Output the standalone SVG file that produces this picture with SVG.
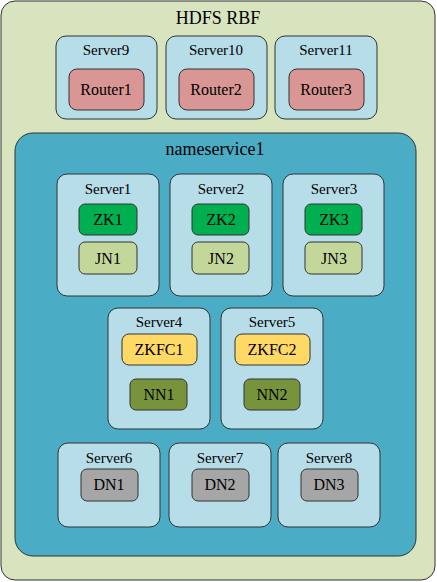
<svg xmlns="http://www.w3.org/2000/svg" width="437" height="582" viewBox="0 0 437 582">
<style>
.outer{fill:#d7e4bd;stroke:#333;stroke-width:1}
.ns{fill:#4bacc6;stroke:#333;stroke-width:1}
.srv{fill:#b7dde8;stroke:#333;stroke-width:1}
.in{stroke:#333;stroke-width:1}
.router{fill:#d99694}
.zk{fill:#00b050}
.jn{fill:#c4d79b}
.zkfc{fill:#ffd966}
.nn{fill:#77933c}
.dn{fill:#a6a6a6}
</style>
<g id="hdfs-rbf">
<rect class="outer" x="1" y="1" width="434" height="579" rx="14"/>
<text x="218" y="24" font-family="Liberation Serif" font-size="18" text-anchor="middle">HDFS RBF</text>
</g>
<g id="server9">
<rect class="srv" x="56" y="36" width="101" height="83" rx="10"/>
<text x="106" y="55" font-family="Liberation Serif" font-size="15" text-anchor="middle">Server9</text>
<rect class="in router" x="69" y="69" width="75" height="41" rx="8"/>
<text x="106" y="95" font-family="Liberation Serif" font-size="16" text-anchor="middle">Router1</text>
</g>
<g id="server10">
<rect class="srv" x="166" y="36" width="101" height="83" rx="10"/>
<text x="216" y="55" font-family="Liberation Serif" font-size="15" text-anchor="middle">Server10</text>
<rect class="in router" x="179" y="69" width="75" height="41" rx="8"/>
<text x="216" y="95" font-family="Liberation Serif" font-size="16" text-anchor="middle">Router2</text>
</g>
<g id="server11">
<rect class="srv" x="275" y="36" width="102" height="83" rx="10"/>
<text x="326" y="55" font-family="Liberation Serif" font-size="15" text-anchor="middle">Server11</text>
<rect class="in router" x="289" y="69" width="75" height="41" rx="8"/>
<text x="326" y="95" font-family="Liberation Serif" font-size="16" text-anchor="middle">Router3</text>
</g>
<g id="nameservice1">
<rect class="ns" x="15" y="133" width="401" height="423" rx="18"/>
<text x="215" y="155" font-family="Liberation Serif" font-size="18" text-anchor="middle">nameservice1</text>
</g>
<g id="server1">
<rect class="srv" x="57" y="174" width="102" height="122" rx="10"/>
<text x="108" y="194" font-family="Liberation Serif" font-size="15" text-anchor="middle">Server1</text>
<rect class="in zk" x="79" y="204" width="58" height="31" rx="6"/>
<text x="108" y="225" font-family="Liberation Serif" font-size="16" text-anchor="middle">ZK1</text>
<rect class="in jn" x="79" y="242" width="58" height="32" rx="6"/>
<text x="108" y="264" font-family="Liberation Serif" font-size="16" text-anchor="middle">JN1</text>
</g>
<g id="server2">
<rect class="srv" x="170" y="174" width="102" height="122" rx="10"/>
<text x="221" y="194" font-family="Liberation Serif" font-size="15" text-anchor="middle">Server2</text>
<rect class="in zk" x="192" y="204" width="57" height="31" rx="6"/>
<text x="221" y="225" font-family="Liberation Serif" font-size="16" text-anchor="middle">ZK2</text>
<rect class="in jn" x="192" y="242" width="57" height="32" rx="6"/>
<text x="221" y="264" font-family="Liberation Serif" font-size="16" text-anchor="middle">JN2</text>
</g>
<g id="server3">
<rect class="srv" x="283" y="174" width="101" height="122" rx="10"/>
<text x="334" y="194" font-family="Liberation Serif" font-size="15" text-anchor="middle">Server3</text>
<rect class="in zk" x="305" y="204" width="57" height="31" rx="6"/>
<text x="334" y="225" font-family="Liberation Serif" font-size="16" text-anchor="middle">ZK3</text>
<rect class="in jn" x="305" y="242" width="57" height="32" rx="6"/>
<text x="334" y="264" font-family="Liberation Serif" font-size="16" text-anchor="middle">JN3</text>
</g>
<g id="server4">
<rect class="srv" x="108" y="308" width="102" height="121" rx="10"/>
<text x="159" y="327" font-family="Liberation Serif" font-size="15" text-anchor="middle">Server4</text>
<rect class="in zkfc" x="122" y="334" width="75" height="31" rx="7"/>
<text x="159" y="355" font-family="Liberation Serif" font-size="16" text-anchor="middle">ZKFC1</text>
<rect class="in nn" x="130" y="379" width="57" height="31" rx="6"/>
<text x="159" y="400" font-family="Liberation Serif" font-size="16" text-anchor="middle">NN1</text>
</g>
<g id="server5">
<rect class="srv" x="221" y="308" width="102" height="121" rx="10"/>
<text x="272" y="327" font-family="Liberation Serif" font-size="15" text-anchor="middle">Server5</text>
<rect class="in zkfc" x="235" y="334" width="75" height="31" rx="7"/>
<text x="272" y="355" font-family="Liberation Serif" font-size="16" text-anchor="middle">ZKFC2</text>
<rect class="in nn" x="244" y="379" width="56" height="31" rx="6"/>
<text x="272" y="400" font-family="Liberation Serif" font-size="16" text-anchor="middle">NN2</text>
</g>
<g id="server6">
<rect class="srv" x="58" y="443" width="102" height="84" rx="10"/>
<text x="109" y="463" font-family="Liberation Serif" font-size="15" text-anchor="middle">Server6</text>
<rect class="in dn" x="81" y="469" width="57" height="32" rx="6"/>
<text x="109" y="490" font-family="Liberation Serif" font-size="16" text-anchor="middle">DN1</text>
</g>
<g id="server7">
<rect class="srv" x="169" y="443" width="102" height="84" rx="10"/>
<text x="220" y="463" font-family="Liberation Serif" font-size="15" text-anchor="middle">Server7</text>
<rect class="in dn" x="192" y="469" width="57" height="32" rx="6"/>
<text x="220" y="490" font-family="Liberation Serif" font-size="16" text-anchor="middle">DN2</text>
</g>
<g id="server8">
<rect class="srv" x="278" y="443" width="102" height="84" rx="10"/>
<text x="329" y="463" font-family="Liberation Serif" font-size="15" text-anchor="middle">Server8</text>
<rect class="in dn" x="301" y="469" width="57" height="32" rx="6"/>
<text x="329" y="490" font-family="Liberation Serif" font-size="16" text-anchor="middle">DN3</text>
</g>
<g id="connectors"/>
</svg>
